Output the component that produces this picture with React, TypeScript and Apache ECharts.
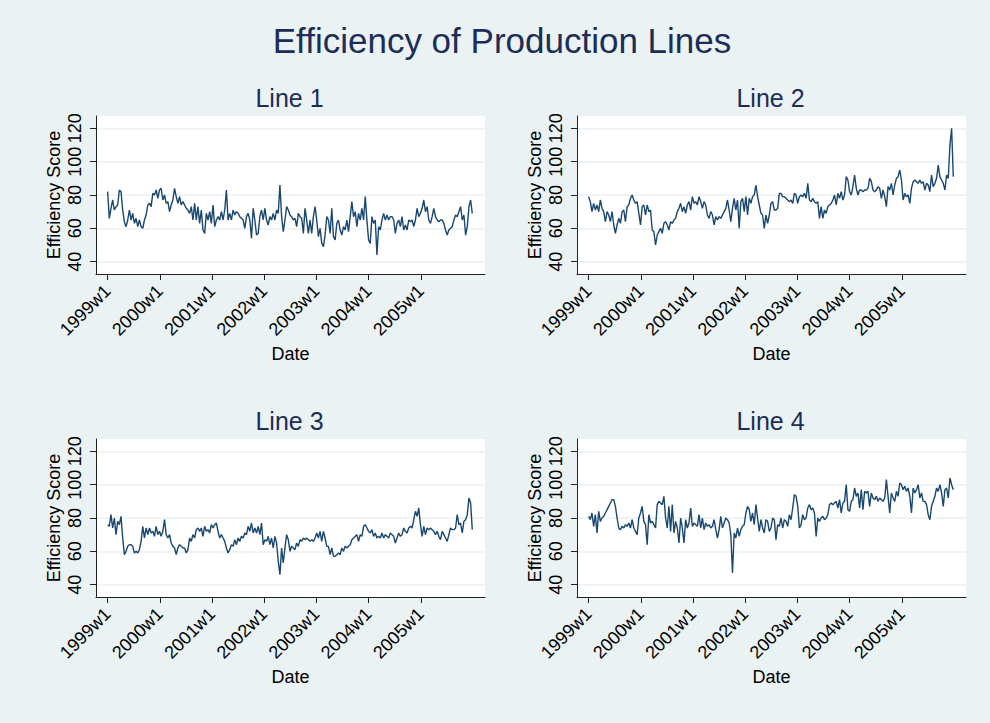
import React, { useEffect, useRef } from "react";
import * as echarts from "echarts";

// Sampled weekly efficiency scores, one sample every 5/3 week starting at 1999w1
const WEEK_STEP = 5 / 3;

const line1: number[] = [
  82, 66, 72, 77, 71, 73, 74, 83, 82, 71,
  64, 61, 65, 71, 65, 69, 63, 66, 61, 65,
  61, 60, 65, 68, 74, 75, 73, 81, 80, 83,
  78, 83, 84, 77, 80, 75, 76, 70, 74, 77,
  84, 79, 75, 79, 74, 76, 74, 72, 71, 69,
  73, 65, 75, 65, 73, 63, 71, 59, 57, 69,
  65, 70, 63, 74, 61, 65, 67, 65, 70, 65,
  71, 83, 65, 69, 65, 71, 68, 70, 69, 67,
  66, 65, 60, 67, 69, 65, 54, 72, 65, 56,
  57, 67, 71, 65, 72, 65, 62, 67, 65, 69,
  65, 71, 69, 86, 67, 58, 65, 73, 71, 68,
  67, 65, 66, 61, 69, 67, 66, 57, 72, 65,
  57, 65, 57, 67, 73, 65, 55, 60, 51, 49,
  56, 67, 65, 57, 72, 55, 53, 63, 65, 59,
  56, 61, 59, 65, 58, 67, 76, 67, 70, 61,
  69, 65, 72, 65, 79, 65, 53, 51, 67, 63,
  65, 44, 61, 59, 65, 69, 65, 68, 65, 67,
  67, 65, 57, 63, 65, 61, 67, 59, 62, 59,
  65, 64, 65, 61, 65, 72, 67, 69, 72, 77,
  70, 73, 65, 63, 67, 72, 67, 65, 64, 65,
  65, 63, 59, 56, 59, 60, 61, 65, 68, 67,
  70, 73, 65, 68, 56, 61, 73, 77, 69,
];

const line2: number[] = [
  79, 76, 70, 75, 71, 74, 70, 77, 72, 70,
  64, 70, 68, 64, 70, 62, 57, 62, 66, 63,
  70, 71, 64, 73, 74, 78, 80, 77, 75, 76,
  69, 62, 73, 74, 68, 74, 70, 71, 59, 58,
  50, 56, 58, 60, 57, 63, 64, 62, 59, 64,
  63, 65, 66, 70, 72, 75, 70, 73, 69, 74,
  76, 71, 79, 75, 76, 74, 79, 76, 72, 76,
  74, 68, 66, 70, 68, 62, 67, 65, 67, 66,
  68, 70, 72, 77, 71, 64, 72, 78, 71, 77,
  60, 76, 78, 70, 79, 68, 78, 75, 79, 80,
  86, 79, 74, 69, 68, 60, 68, 63, 68, 75,
  76, 71, 71,
  72, 81, 81, 79, 79, 78, 77, 76, 77, 75,
  81, 80, 75, 79, 80, 79, 81, 78, 87, 77,
  76, 78, 76, 75, 76, 66, 73, 66, 71, 69,
  73, 74, 75, 77, 80, 74, 81, 78, 82, 77,
  80, 91, 89, 82, 80, 85, 92, 84, 80, 83,
  83, 82, 83, 83, 84, 90, 88, 83, 82, 83,
  85, 84, 78, 83, 79, 73, 85, 83, 87, 80,
  86, 90, 91, 95, 89, 77, 81, 79, 80, 75,
  84, 88, 89, 88, 87, 89, 87, 88, 83, 87,
  86, 82, 92, 85, 87, 90, 98, 91, 89, 87,
  83, 92, 90, 110, 120, 91,
];

const line3: number[] = [
  76, 75, 82, 74, 80, 70, 78, 76, 81, 68,
  58, 60, 63, 64, 64, 63, 59, 60, 59, 61,
  66, 75, 68, 74, 70, 74, 71, 72, 69, 75,
  70, 72, 69, 72, 79, 70, 68, 70, 65, 63,
  62, 58, 62, 64, 63, 62, 62, 59, 61, 68,
  66, 70, 68, 73, 74, 72, 74, 69, 75, 72,
  73, 71, 76, 74, 76, 77, 72, 68, 70, 68,
  66, 62, 59, 61, 64, 63, 67, 64, 68, 66,
  69, 68, 71, 70, 75, 72, 77, 71, 74, 71,
  75, 70, 77, 64, 67, 66, 69, 64, 68, 62,
  69, 65, 54, 46, 62, 53, 62, 70, 67, 60,
  63, 62, 61,
  65, 63, 67, 66, 68, 67, 68, 67, 66, 67,
  66, 68, 71, 68, 72, 66, 72, 68, 63, 63,
  58, 62, 57, 57, 58, 59, 58, 62, 60, 63,
  62, 63, 64, 67, 68, 69, 70, 66, 70, 69,
  75, 76, 74, 72, 71, 73, 69, 71, 68, 69,
  68, 71, 68, 70, 69, 68, 71, 70, 69, 65,
  68, 71, 69, 70, 74, 72, 71, 74, 75, 74,
  79, 84, 81, 86, 76, 69, 75, 70, 74, 73,
  74, 73, 72, 70, 72, 69, 67, 72, 70, 68,
  66, 70, 74, 73, 73, 74, 82, 76, 77, 71,
  78, 79, 82, 92, 89, 73,
];

const line4: number[] = [
  81, 79, 83, 75, 82, 71, 84, 78, 80, 81,
  83, 85, 87, 89, 91, 91, 87, 80, 74, 73,
  75, 74, 76, 75, 77, 74, 79, 74, 72, 70,
  80, 83, 87, 78, 76, 64, 82, 77, 78, 76,
  74, 88, 90, 89, 88, 93, 80, 74, 87, 72,
  88, 71, 78, 74, 65, 80, 74, 65, 79, 74,
  77, 86, 75, 77, 76, 75, 82, 74, 80, 73,
  77, 75, 76, 74, 75, 79, 73, 68, 73, 81,
  74, 77, 80, 79, 77, 70, 47, 71, 68, 74,
  69, 73, 75, 76, 83, 87, 85, 78, 83, 76,
  88, 80, 72, 79, 74, 71, 79, 78, 72, 74,
  80, 79, 67,
  76, 75, 80, 74, 79, 78, 75, 82, 79, 86,
  94, 93, 87, 74, 76, 82, 79, 80, 86, 88,
  85, 86, 83, 69, 80, 78, 80, 81, 79, 80,
  82, 88, 89, 88, 89, 90, 86, 91, 83, 89,
  90, 100, 85, 84, 90, 91, 98, 93, 95, 86,
  97, 85, 96, 95, 96, 87, 95, 92, 91, 93,
  90, 92, 91, 90, 92, 103, 93, 83, 95, 92,
  90, 96, 93, 101, 100, 97, 99, 96, 98, 93,
  83, 98, 95, 97, 100, 92, 95, 90, 90, 88,
  82, 79, 87, 90, 93, 98, 96, 100, 95, 87,
  97, 98, 92, 104, 100, 97,
];

const panelTitles = ["Line 1", "Line 2", "Line 3", "Line 4"];
const seriesValues = [line1, line2, line3, line4];
const xTickWeeks = [0, 52, 104, 156, 208, 260, 312];
const xTickLabels = ["1999w1", "2000w1", "2001w1", "2002w1", "2003w1", "2004w1", "2005w1"];
const yTicks = [40, 60, 80, 100, 120];

const NAVY = "#1a476f";
const TITLE = "#1c2d58";
const BG = "#eaf2f3";
const FONT = "'Liberation Sans', Arial, sans-serif";

// panel plot-region geometry (px)
const panels = [
  { left: 96, top: 116 },
  { left: 577, top: 116 },
  { left: 96, top: 439 },
  { left: 577, top: 439 },
];
const PW = 389;
const PH = 158;

export default function App() {
  const ref = useRef<HTMLDivElement>(null);
  useEffect(() => {
    if (!ref.current) return;
    const chart = echarts.init(ref.current, undefined, { renderer: "svg" });

    const grid = panels.map((p) => ({
      left: p.left,
      top: p.top,
      width: PW,
      height: PH,
      backgroundColor: "#ffffff",
      show: true,
      borderWidth: 0,
      containLabel: false,
    }));

    const xAxis = panels.map((_, i) => ({
      type: "value",
      gridIndex: i,
      min: -11.6,
      max: 376,
      name: "Date",
      nameLocation: "middle",
      nameGap: 71,
      nameTextStyle: { fontFamily: FONT, fontSize: 18, color: "#000" },
      axisLine: { show: true, onZero: false, lineStyle: { color: "#222", width: 1 } },
      axisTick: {
        show: true,
        length: 6,
        customValues: xTickWeeks,
        lineStyle: { color: "#222", width: 1 },
      },
      axisLabel: {
        customValues: xTickWeeks,
        rotate: 45,
        margin: 14,
        fontFamily: FONT,
        fontSize: 18,
        color: "#000",
        formatter: (v: number) => {
          const idx = xTickWeeks.indexOf(Math.round(v));
          return idx >= 0 ? xTickLabels[idx] : "";
        },
      },
      splitLine: { show: false },
    }));

    const yAxis = panels.map((_, i) => ({
      type: "value",
      gridIndex: i,
      min: 32.6,
      max: 127.4,
      name: "Efficiency Score",
      nameLocation: "middle",
      nameGap: 33,
      nameTextStyle: { fontFamily: FONT, fontSize: 18, color: "#000" },
      axisLine: { show: true, onZero: false, lineStyle: { color: "#222", width: 1 } },
      axisTick: {
        show: true,
        length: 6,
        customValues: yTicks,
        lineStyle: { color: "#222", width: 1 },
      },
      axisLabel: {
        customValues: yTicks,
        rotate: 90,
        margin: 12,
        fontFamily: FONT,
        fontSize: 18,
        color: "#000",
      },
      splitLine: { show: true, lineStyle: { color: BG, width: 1.6 } },
    }));

    const series = seriesValues.map((vals, i) => ({
      type: "line",
      xAxisIndex: i,
      yAxisIndex: i,
      data: vals.map((v, k) => [k * WEEK_STEP, v]),
      showSymbol: false,
      symbol: "none",
      lineStyle: { color: NAVY, width: 1.4 },
      itemStyle: { color: NAVY },
    }));

    const graphic: any[] = [
      {
        type: "text",
        x: 502,
        y: 40,
        style: {
          text: "Efficiency of Production Lines",
          fontFamily: FONT,
          fontSize: 35,
          fill: TITLE,
          textAlign: "center",
          textVerticalAlign: "middle",
        },
      },
      ...panels.map((p, i) => ({
        type: "text",
        x: p.left + PW / 2 - 1,
        y: p.top - 18,
        style: {
          text: panelTitles[i],
          fontFamily: FONT,
          fontSize: 25,
          fill: TITLE,
          textAlign: "center",
          textVerticalAlign: "middle",
        },
      })),
    ];

    chart.setOption({
      animation: false,
      backgroundColor: BG,
      grid,
      xAxis,
      yAxis,
      series,
      graphic,
    });
    return () => chart.dispose();
  }, []);

  return (
    <div
      ref={ref}
      style={{ position: "fixed", left: 0, top: 0, width: 990, height: 723 }}
    />
  );
}
